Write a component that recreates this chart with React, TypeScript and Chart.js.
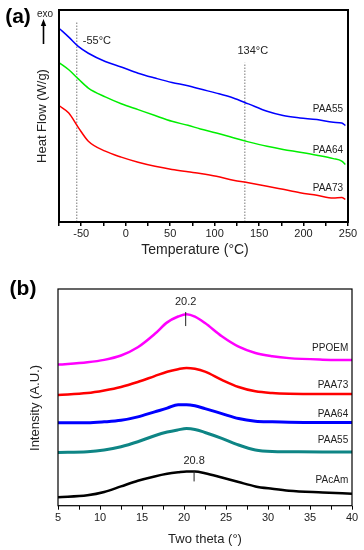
import React, { useEffect, useRef } from 'react';
import { Chart, registerables } from 'chart.js';

Chart.register(...registerables);

const FONT = '"Liberation Sans", Arial, Helvetica, sans-serif';
const TXT = '#222';

// ---------- Panel (a): DSC ----------
const dscTemps = [-75, -64, -53, -42, -23, -5, 14, 33, 52, 70, 84, 102, 121, 138, 159, 177, 196, 215, 233.5, 243, 247];
const dscPAA55 = [9.14, 8.72, 8.27, 7.96, 7.57, 7.31, 7.02, 6.79, 6.58, 6.43, 6.27, 6.08, 5.85, 5.57, 5.22, 5.02, 4.91, 4.83, 4.70, 4.67, 4.55];
const dscPAA64 = [7.52, 7.18, 6.74, 6.32, 5.90, 5.58, 5.30, 5.02, 4.75, 4.56, 4.39, 4.20, 3.97, 3.78, 3.57, 3.42, 3.29, 3.15, 2.99, 2.87, 2.71];
const dscPAA73 = [5.49, 5.14, 4.44, 3.81, 3.34, 3.06, 2.82, 2.63, 2.48, 2.37, 2.29, 2.16, 1.97, 1.85, 1.69, 1.54, 1.38, 1.26, 1.13, 1.15, 1.07];
const dscNames = ['PAA55', 'PAA64', 'PAA73'];
const dscColors = ['#0000ff', '#00ee00', '#ff0000'];
const dscLabelY = [5.30, 3.37, 1.58];
const dscLabelX = 244.5;
const tgTemps = [-55, 134];
const tgLineTop = [9.44, 7.51];
const tgTexts = ['-55°C', '134°C'];
const tgTextY = [8.56, 8.09];
const dscXMin = -75;
const dscXMax = 250;

// ---------- Panel (b): XRD ----------
const xrdTheta = [5, 8.5, 10.5, 12.5, 14.5, 16.5, 18, 19.3, 20.3, 21.3, 22.5, 24.5, 26.5, 28.5, 30.5, 32.5, 36.5, 40];
const xrdPPOEM = [6.51, 6.62, 6.73, 6.93, 7.31, 7.92, 8.46, 8.73, 8.84, 8.73, 8.43, 7.82, 7.34, 7.05, 6.90, 6.81, 6.74, 6.72];
const xrdPAA73 = [5.11, 5.20, 5.32, 5.48, 5.71, 5.98, 6.18, 6.30, 6.36, 6.32, 6.19, 5.81, 5.48, 5.28, 5.20, 5.17, 5.16, 5.16];
const xrdPAA64 = [3.83, 3.83, 3.87, 3.94, 4.10, 4.33, 4.50, 4.66, 4.66, 4.61, 4.48, 4.25, 4.02, 3.90, 3.87, 3.85, 3.84, 3.84];
const xrdPAA55 = [2.46, 2.49, 2.57, 2.72, 2.95, 3.23, 3.40, 3.50, 3.56, 3.52, 3.38, 3.11, 2.80, 2.57, 2.50, 2.49, 2.48, 2.48];
const xrdPAcAm = [0.39, 0.48, 0.63, 0.89, 1.15, 1.35, 1.47, 1.54, 1.58, 1.58, 1.50, 1.30, 1.09, 0.89, 0.78, 0.69, 0.61, 0.55];
const xrdNames = ['PPOEM', 'PAA73', 'PAA64', 'PAA55', 'PAcAm'];
const xrdColors = ['#ff00ff', '#ff0000', '#0000ff', '#0e8585', '#000000'];
const xrdWidths = [2.5, 2.5, 3, 3, 2.5];
const xrdLabelY = [7.27, 5.57, 4.24, 3.04, 1.19];
const xrdLabelX = 39.55;
const peakPos = [20.2, 21.2];
const peakTexts = ['20.2', '20.8'];
const peakTextY = [9.39, 2.05];
const peakLineLo = [8.29, 1.12];
const peakLineHi = [8.94, 1.61];

const toXY = (xs: number[], ys: number[]) => xs.map((x, i) => ({ x, y: ys[i] }));

const tickFont = { family: FONT, size: 11 };

function App() {
  const refA = useRef<HTMLCanvasElement | null>(null);
  const refB = useRef<HTMLCanvasElement | null>(null);

  useEffect(() => {
    const dscSeries = [dscPAA55, dscPAA64, dscPAA73];
    const annotA = {
      id: 'annotA',
      afterDraw(chart: any) {
        const { ctx, chartArea: ca, scales } = chart;
        const x = scales.x, y = scales.y;
        ctx.save();
        ctx.strokeStyle = '#000';
        ctx.lineWidth = 2;
        ctx.strokeRect(ca.left, ca.top, ca.right - ca.left, ca.bottom - ca.top);
        ctx.fillStyle = TXT;
        ctx.textBaseline = 'middle';
        ctx.font = `11px ${FONT}`;
        ctx.textAlign = 'left';
        ctx.fillText(tgTexts[0], x.getPixelForValue(tgTemps[0]) + 6, y.getPixelForValue(tgTextY[0]));
        ctx.textAlign = 'center';
        ctx.fillText(tgTexts[1], x.getPixelForValue(tgTemps[1]) + 8, y.getPixelForValue(tgTextY[1]));
        ctx.font = `10px ${FONT}`;
        ctx.textAlign = 'right';
        dscNames.forEach((n, i) => ctx.fillText(n, x.getPixelForValue(dscLabelX), y.getPixelForValue(dscLabelY[i])));
        // panel letter
        ctx.fillStyle = '#000';
        ctx.textAlign = 'center';
        ctx.font = `bold 21px ${FONT}`;
        ctx.fillText('(a)', 18, 17);
        // exo arrow
        ctx.font = `10px ${FONT}`;
        ctx.fillStyle = TXT;
        ctx.fillText('exo', 45, 14);
        ctx.strokeStyle = '#000';
        ctx.lineWidth = 1.6;
        ctx.beginPath();
        ctx.moveTo(43.5, 44);
        ctx.lineTo(43.5, 24);
        ctx.stroke();
        ctx.fillStyle = '#000';
        ctx.beginPath();
        ctx.moveTo(43.5, 19);
        ctx.lineTo(40.8, 26);
        ctx.lineTo(46.2, 26);
        ctx.closePath();
        ctx.fill();
        // x title
        ctx.fillStyle = TXT;
        ctx.font = `14px ${FONT}`;
        ctx.fillText('Temperature (°C)', 195, 250);
        ctx.restore();
      },
    };

    const chartA = new Chart(refA.current as HTMLCanvasElement, {
      type: 'line',
      data: {
        datasets: [
          ...dscSeries.map((s, i) => ({
            label: dscNames[i],
            data: toXY(dscTemps, s),
            borderColor: dscColors[i],
            borderWidth: 1.5,
            pointRadius: 0,
            cubicInterpolationMode: 'monotone' as const,
          })),
          ...tgTemps.map((t, i) => ({
            label: 'tg' + i,
            data: [{ x: t, y: 0 }, { x: t, y: tgLineTop[i] }],
            borderColor: '#777',
            borderWidth: 1,
            borderDash: [1.5, 1.5],
            pointRadius: 0,
          })),
        ],
      },
      options: {
        animation: false,
        responsive: false,
        layout: { padding: { top: 10, right: 16, bottom: 20.8, left: 0 } },
        plugins: { legend: { display: false }, tooltip: { enabled: false } },
        scales: {
          x: {
            type: 'linear',
            min: dscXMin,
            max: dscXMax,
            grid: { display: true, drawOnChartArea: false, drawTicks: true, tickLength: 4, tickColor: '#000', lineWidth: 1.5 },
            border: { display: false },
            ticks: {
              stepSize: 25,
              autoSkip: false,
              maxRotation: 0,
              padding: 1,
              color: TXT,
              font: tickFont,
              callback: (v: any) => (Math.abs(Number(v) % 50) < 1e-6 ? String(v) : ''),
            },
          },
          y: {
            type: 'linear',
            min: 0,
            max: 10,
            grid: { display: false },
            border: { display: false },
            ticks: { display: false },
            title: {
              display: true,
              text: 'Heat Flow (W/g)',
              color: TXT,
              font: { family: FONT, size: 13 },
              padding: { top: 35, bottom: 8.4 },
            },
            afterFit: (s: any) => {
              s.width = 59;
            },
          },
        },
      },
      plugins: [annotA],
    } as any);

    const xrdSeries = [xrdPPOEM, xrdPAA73, xrdPAA64, xrdPAA55, xrdPAcAm];
    const annotB = {
      id: 'annotB',
      afterDraw(chart: any) {
        const { ctx, chartArea: ca, scales } = chart;
        const x = scales.x, y = scales.y;
        ctx.save();
        ctx.strokeStyle = '#000';
        ctx.lineWidth = 1.2;
        ctx.strokeRect(ca.left, ca.top, ca.right - ca.left, ca.bottom - ca.top);
        ctx.fillStyle = TXT;
        ctx.textBaseline = 'middle';
        ctx.font = `11px ${FONT}`;
        ctx.textAlign = 'center';
        peakTexts.forEach((t, i) => ctx.fillText(t, x.getPixelForValue(peakPos[i]), y.getPixelForValue(peakTextY[i])));
        ctx.font = `10px ${FONT}`;
        ctx.textAlign = 'right';
        xrdNames.forEach((n, i) => ctx.fillText(n, x.getPixelForValue(xrdLabelX), y.getPixelForValue(xrdLabelY[i])));
        ctx.fillStyle = '#000';
        ctx.textAlign = 'center';
        ctx.font = `bold 21px ${FONT}`;
        ctx.fillText('(b)', 23, 27);
        // y title
        ctx.fillStyle = TXT;
        ctx.font = `13px ${FONT}`;
        ctx.translate(35, 146);
        ctx.rotate(-Math.PI / 2);
        ctx.fillText('Intensity (A.U.)', 0, 0);
        ctx.restore();
      },
    };

    const chartB = new Chart(refB.current as HTMLCanvasElement, {
      type: 'line',
      data: {
        datasets: [
          ...peakPos.map((p, i) => ({
            label: 'peak' + i,
            data: [{ x: p, y: peakLineLo[i] }, { x: p, y: peakLineHi[i] }],
            borderColor: '#222',
            borderWidth: 1,
            pointRadius: 0,
          })),
          ...xrdSeries.map((s, i) => ({
            label: xrdNames[i],
            data: toXY(xrdTheta, s),
            borderColor: xrdColors[i],
            borderWidth: xrdWidths[i],
            pointRadius: 0,
            cubicInterpolationMode: 'monotone' as const,
          })),
        ],
      },
      options: {
        animation: false,
        responsive: false,
        layout: { padding: { top: 27, right: 12, bottom: 0, left: 0 } },
        plugins: { legend: { display: false }, tooltip: { enabled: false } },
        scales: {
          x: {
            type: 'linear',
            min: 5,
            max: 40,
            grid: { display: true, drawOnChartArea: false, drawTicks: true, tickLength: 4, tickColor: '#000', lineWidth: 1 },
            border: { display: false },
            ticks: {
              stepSize: 2.5,
              autoSkip: false,
              maxRotation: 0,
              padding: 2,
              color: TXT,
              font: tickFont,
              callback: (v: any) => (Math.abs(Number(v) % 5) < 1e-6 ? String(v) : ''),
            },
            title: {
              display: true,
              text: 'Two theta (°)',
              color: TXT,
              font: { family: FONT, size: 13 },
              padding: { top: 4.3, bottom: 3.2 },
            },
          },
          y: {
            type: 'linear',
            min: 0,
            max: 10,
            grid: { display: false },
            border: { display: false },
            ticks: { display: false },
            afterFit: (s: any) => {
              s.width = 58;
            },
          },
        },
      },
      plugins: [annotB],
    } as any);

    return () => {
      chartA.destroy();
      chartB.destroy();
    };
  }, []);

  return (
    <div style={{ position: 'fixed', left: 0, top: 0, width: 364, height: 550, background: '#fff' }}>
      <canvas ref={refA} width={364} height={262} style={{ position: 'absolute', left: 0, top: 0, display: 'block' }} />
      <canvas ref={refB} width={364} height={288} style={{ position: 'absolute', left: 0, top: 262, display: 'block' }} />
    </div>
  );
}

export default App;
